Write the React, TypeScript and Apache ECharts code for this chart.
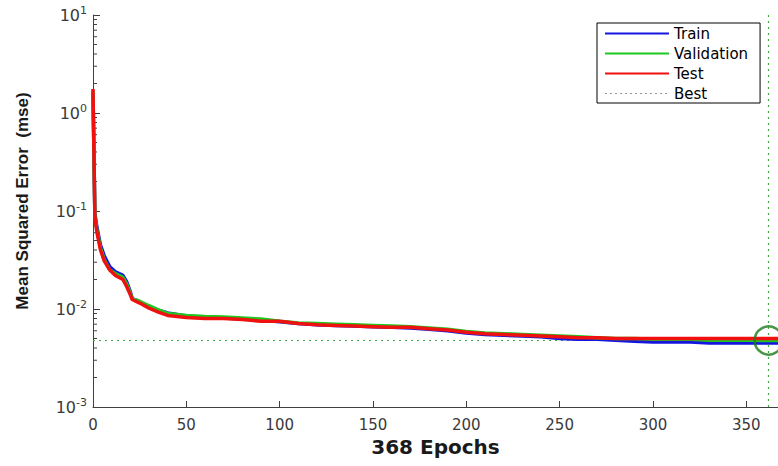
import React, { useEffect, useRef } from "react";
import * as echarts from "echarts";

const epochs = [0, 1, 2, 4, 6, 9, 12, 16, 18, 20, 21, 25, 30, 35, 40, 50, 60, 70, 80, 90, 100, 110, 120, 130, 140, 150, 160, 170, 180, 190, 200, 210, 220, 230, 240, 250, 260, 270, 280, 290, 300, 310, 320, 330, 340, 350, 360, 367];
const trainMse = [1.6, 0.095, 0.07, 0.045, 0.035, 0.027, 0.024, 0.022, 0.019, 0.015, 0.0128, 0.0118, 0.0106, 0.0097, 0.0091, 0.0085, 0.0082, 0.0081, 0.0079, 0.0077, 0.0074, 0.0071, 0.0069, 0.0068, 0.0067, 0.0066, 0.0065, 0.0064, 0.0062, 0.006, 0.0057, 0.0055, 0.0054, 0.0053, 0.0052, 0.005, 0.0049, 0.0049, 0.0048, 0.0047, 0.0046, 0.0046, 0.0046, 0.0045, 0.0045, 0.0045, 0.0045, 0.0045];
const validationMse = [1.7, 0.09, 0.065, 0.042, 0.032, 0.025, 0.023, 0.021, 0.018, 0.0145, 0.0128, 0.012, 0.0108, 0.0098, 0.009, 0.0086, 0.0084, 0.0083, 0.0081, 0.0079, 0.0075, 0.0072, 0.0071, 0.007, 0.0069, 0.0068, 0.0067, 0.0066, 0.0064, 0.0062, 0.0059, 0.0057, 0.0056, 0.0055, 0.0054, 0.0053, 0.0052, 0.0051, 0.005, 0.005, 0.0049, 0.0049, 0.0049, 0.0048, 0.0048, 0.0048, 0.00477, 0.00478];
const testMse = [1.76, 0.088, 0.062, 0.04, 0.031, 0.025, 0.022, 0.02, 0.017, 0.014, 0.0125, 0.0115, 0.0102, 0.0093, 0.0086, 0.0082, 0.008, 0.008, 0.0078, 0.0075, 0.0075, 0.0071, 0.0069, 0.0068, 0.0067, 0.0066, 0.0065, 0.0065, 0.0063, 0.0061, 0.0058, 0.0056, 0.0055, 0.0054, 0.0053, 0.0052, 0.0051, 0.0051, 0.005, 0.005, 0.005, 0.005, 0.005, 0.005, 0.005, 0.005, 0.005, 0.005];
const bestEpoch = 362;
const bestMse = 0.00477;
const xMax = 367;
const xTickLabels = [0, 50, 100, 150, 200, 250, 300, 350];
const yMin = 0.001;
const yMax = 10;
const minorTickValues: number[] = [];
[0.001, 0.01, 0.1, 1].forEach((d) => {
  for (let k = 2; k <= 9; k++) minorTickValues.push(d * k);
});

const pairs = (ys: number[]) => epochs.map((e, i) => [e, ys[i]]);

export default function App() {
  const ref = useRef<HTMLDivElement>(null);
  useEffect(() => {
    if (!ref.current) return;
    const chart = echarts.init(ref.current, null, { renderer: "svg" });
    const axisColor = "#404040";
    const font = "DejaVu Sans";
    chart.setOption({
      animation: false,
      backgroundColor: "#ffffff",
      grid: { left: 93, right: 0, top: 15, bottom: 59, containLabel: false },
      legend: {
        orient: "vertical",
        left: 597,
        top: 23,
        padding: [3, 12, 2, 7],
        borderColor: "#000",
        borderWidth: 1,
        backgroundColor: "#fff",
        itemWidth: 64,
        itemHeight: 14,
        itemGap: 5,
        itemStyle: { opacity: 0 },
        data: [
          { name: "Train" },
          { name: "Validation" },
          { name: "Test" },
          { name: "Best", lineStyle: { color: "#8a9a8a", width: 1.2, type: [2, 3] } },
        ],
        textStyle: { fontFamily: font, fontSize: 15, color: "#000" },
      },
      xAxis: {
        type: "value",
        min: 0,
        max: xMax,
        name: "368 Epochs",
        nameLocation: "middle",
        nameGap: 30,
        nameTextStyle: { fontFamily: font, fontWeight: "bold", fontSize: 20, color: "#1a1a1a" },
        axisLine: { show: true, lineStyle: { color: axisColor, width: 1 } },
        axisTick: { show: true, inside: true, length: 6, customValues: xTickLabels, lineStyle: { color: axisColor } },
        axisLabel: { customValues: xTickLabels, fontFamily: font, fontSize: 15, color: "#3a3a3a", margin: 10 },
        splitLine: { show: false },
      },
      yAxis: {
        type: "log",
        logBase: 10,
        min: yMin,
        max: yMax,
        name: "Mean Squared Error  (mse)",
        nameLocation: "middle",
        nameGap: 62,
        nameTextStyle: { fontFamily: "Liberation Sans", fontWeight: "bold", fontSize: 17, color: "#1a1a1a", padding: [0, 0, 0, 20] },
        axisLine: { show: true, lineStyle: { color: axisColor, width: 1 } },
        axisTick: { show: true, inside: true, length: 7, lineStyle: { color: axisColor } },
        axisLabel: {
          margin: 6,
          formatter: (v: number) => `{b|10}{s|${Math.round(Math.log10(v))}}`,
          rich: {
            b: { fontFamily: font, fontSize: 16, color: "#3a3a3a" },
            s: { fontFamily: font, fontSize: 11, color: "#3a3a3a", padding: [0, 0, 10, 0] },
          },
        },
        splitLine: { show: false },
      },
      series: [
        {
          type: "custom",
          silent: true,
          data: minorTickValues.map((v) => [0, v]),
          renderItem: (params: any, api: any) => {
            const p = api.coord([0, api.value(1)]);
            return {
              type: "line",
              shape: { x1: p[0], y1: p[1], x2: p[0] + 4, y2: p[1] },
              style: { stroke: axisColor, lineWidth: 1 },
            };
          },
          z: 1,
        },
        {
          name: "Best",
          type: "line",
          symbol: "none",
          data: [[0, bestMse], [xMax, bestMse]],
          lineStyle: { color: "#3faa3f", width: 1.2, type: [2, 4] },
          itemStyle: { color: "#3faa3f" },
          markLine: {
            silent: true,
            symbol: "none",
            label: { show: false },
            lineStyle: { color: "#3faa3f", width: 1.2, type: [2, 4] },
            data: [{ xAxis: bestEpoch }],
          },
          z: 2,
        },
        {
          name: "Train",
          type: "line",
          symbol: "none",
          data: pairs(trainMse),
          lineStyle: { color: "#1515e0", width: 3.5 },
          itemStyle: { color: "#1515e0" },
          z: 3,
        },
        {
          name: "Validation",
          type: "line",
          symbol: "none",
          data: pairs(validationMse),
          lineStyle: { color: "#1ec81e", width: 3.5 },
          itemStyle: { color: "#1ec81e" },
          z: 4,
        },
        {
          name: "Test",
          type: "line",
          symbol: "none",
          data: pairs(testMse),
          lineStyle: { color: "#f01010", width: 3.5 },
          itemStyle: { color: "#f01010" },
          z: 5,
        },
        {
          name: "BestPoint",
          type: "scatter",
          silent: true,
          symbol: "circle",
          symbolSize: [28, 28],
          data: [[bestEpoch, bestMse]],
          itemStyle: { color: "rgba(0,0,0,0)", borderColor: "#1c7a1c", borderWidth: 2.5 },
          z: 6,
        },
      ],
    });
    return () => chart.dispose();
  }, []);
  return <div ref={ref} style={{ position: "fixed", left: 0, top: 0, width: 778, height: 466 }} />;
}
